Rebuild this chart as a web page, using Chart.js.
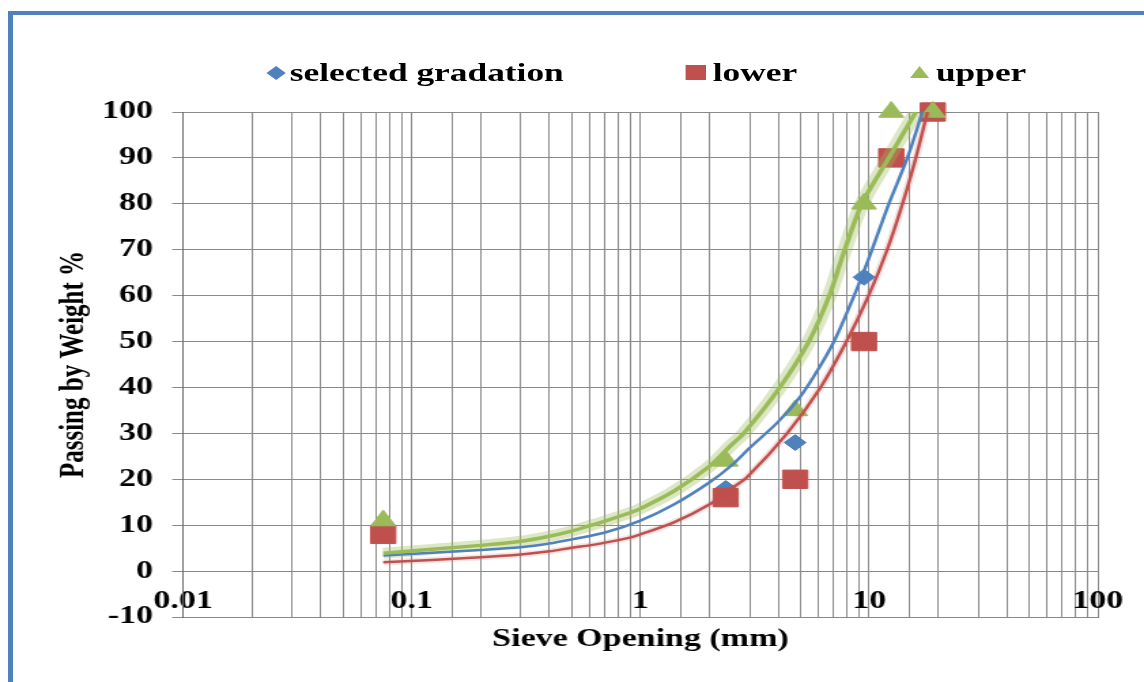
<!DOCTYPE html>
<html>
<head>
<meta charset="utf-8">
<title>Gradation chart</title>
<script src="https://cdn.jsdelivr.net/npm/chart.js@4.4.1/dist/chart.umd.min.js"></script>
<style>
  html, body { margin: 0; padding: 0; background: #fff; }
  body { width: 1144px; height: 682px; overflow: hidden; position: relative; font-family: "Liberation Serif", "Times New Roman", serif; }
  #frame { position: absolute; left: 8px; top: 11px; width: 1200px; height: 700px; border-top: 4px solid #4f81bd; border-left: 5px solid #4f81bd; }
  /* the reference is stretched sideways, so the whole chart is drawn narrow and scaled */
  #wrap { position: absolute; left: 0; top: 0; width: 841px; height: 682px; transform: scaleX(1.3603); transform-origin: 0 0; }
  .mk { position: absolute; }
  .txt { position: absolute; top: 57px; line-height: 32px; font-size: 26px; font-weight: bold; color: #000; white-space: nowrap; }
</style>
</head>
<body>
<div id="frame"></div>
<div id="wrap">
  <canvas id="chart"></canvas>
  <div class="mk" style="left:198px;top:68px;width:10px;height:10px;background:#4f81bd;transform:rotate(45deg)"></div>
  <div class="txt" style="left:213px">selected gradation</div>
  <div class="mk" style="left:504px;top:65px;width:15px;height:15px;background:#c0504d"></div>
  <div class="txt" style="left:524px">lower</div>
  <div class="mk" style="left:669px;top:66px;width:0;height:0;border-left:7px solid transparent;border-right:7px solid transparent;border-bottom:12px solid #9bbb59"></div>
  <div class="txt" style="left:688px">upper</div>
</div>
<script>
// sieve data
const selSizes = [0.075, 2.36, 4.75, 9.5, 19];
const selPassing = [10, 18, 28, 64, 100];
const limitSizes = [0.075, 2.36, 4.75, 9.5, 12.5, 19];
const lowerPassing = [8, 16, 20, 50, 90, 100];
const upperPassing = [11, 24, 35, 80, 100, 100];

// trendlines
const selTrendX = [0.075, 0.2, 0.3, 0.4, 0.5, 0.7, 1, 1.4, 2, 2.5, 3, 4, 5, 6, 7.1, 8.6, 9.95, 12.2, 14.7, 17.1];
const selTrendY = [3.4, 4.6, 5.2, 6.0, 6.9, 8.4, 11.0, 14.5, 19.3, 23, 26.8, 32.5, 38, 44, 50.5, 60, 68, 80, 90, 100];
const lowTrendX = [0.075, 0.2, 0.3, 0.4, 0.5, 0.6, 0.7, 0.9, 1, 1.4, 2, 2.5, 2.93, 4.38, 6.13, 7.96, 9.95, 12, 14, 16, 18];
const lowTrendY = [1.9, 3.0, 3.6, 4.3, 5.1, 5.6, 6.2, 7.3, 8.0, 10.6, 14.5, 18, 20.5, 30, 40, 50, 60, 70, 80, 90, 100];
const upTrendX = [0.075, 0.2, 0.3, 0.4, 0.5, 0.6, 0.7, 0.9, 1, 1.4, 2, 2.5, 2.83, 4, 5.45, 6.7, 7.7, 9.3, 12.2, 16];
const upTrendY = [3.9, 5.6, 6.5, 7.6, 8.7, 9.9, 10.9, 12.7, 13.6, 17.4, 22.8, 27.5, 30, 39.5, 50, 60, 69, 80, 90, 100];

const xTickLabels = ['0.01', '0.1', '1', '10', '100'];
const yMin = -10, yMax = 100, yStep = 10;

const pts = (xs, ys) => xs.map((x, i) => ({ x: x, y: ys[i] }));

function trend(xs, ys, color, width, order) {
  return {
    data: pts(xs, ys), showLine: true, borderColor: color, borderWidth: width,
    pointRadius: 0, pointHoverRadius: 0, tension: 0.3, fill: false, order: order
  };
}
function marks(xs, ys, color, style, radius, order) {
  return {
    data: pts(xs, ys), showLine: false, pointStyle: style, pointRadius: radius, pointHoverRadius: radius,
    backgroundColor: color, borderColor: color, borderWidth: 1, clip: false, order: order
  };
}

const tickFont = { family: '"Liberation Serif", "Times New Roman", serif', size: 25, weight: 'bold' };

new Chart(document.getElementById('chart'), {
  type: 'scatter',
  data: {
    datasets: [
      trend(upTrendX, upTrendY, 'rgba(155,187,89,0.35)', 11, 5),
      trend(upTrendX, upTrendY, '#9bbb59', 3.5, 0),
      trend(selTrendX, selTrendY, '#4f81bd', 2.5, 1),
      trend(lowTrendX, lowTrendY, 'rgba(192,80,77,0.15)', 6, 6),
      trend(lowTrendX, lowTrendY, '#c0504d', 2.5, 2),
      marks(limitSizes, upperPassing, '#9bbb59', 'triangle', 10.5, 7),
      marks(limitSizes, lowerPassing, '#c0504d', 'rect', 13, 8),
      marks(selSizes, selPassing, '#4f81bd', 'rectRot', 8, 9)
    ]
  },
  options: {
    responsive: true,
    maintainAspectRatio: false,
    animation: false,
    layout: { padding: { left: 20, right: 34, top: 112, bottom: 10 } },
    plugins: { legend: { display: false }, tooltip: { enabled: false } },
    scales: {
      x: {
        type: 'logarithmic',
        min: 0.01,
        max: 100,
        afterFit: s => { s.height = 55; },
        grid: { color: '#8a8a8a', lineWidth: 1, drawTicks: false },
        border: { color: '#8a8a8a' },
        ticks: {
          // mirror keeps the labels from being clipped, they sit just above the bottom line
          autoSkip: false, maxRotation: 0, mirror: true, padding: 0, color: '#000', font: tickFont,
          callback: v => {
            const l = Math.log10(v);
            return Math.abs(l - Math.round(l)) < 1e-9 ? xTickLabels[Math.round(l) + 2] : '';
          }
        },
        title: { display: true, text: 'Sieve Opening (mm)', color: '#000', font: tickFont, padding: { top: 0, bottom: 17 } }
      },
      y: {
        min: yMin,
        max: yMax,
        afterFit: s => { s.width = 114.6; },
        grid: { color: '#8a8a8a', lineWidth: 1, tickLength: 8 },
        border: { color: '#6a6a6a' },
        ticks: { stepSize: yStep, padding: 14, color: '#000', font: tickFont },
        title: { display: true, text: 'Passing by Weight %', color: '#000', font: tickFont, padding: { top: 20, bottom: 0 } }
      }
    }
  }
});
</script>
</body>
</html>
